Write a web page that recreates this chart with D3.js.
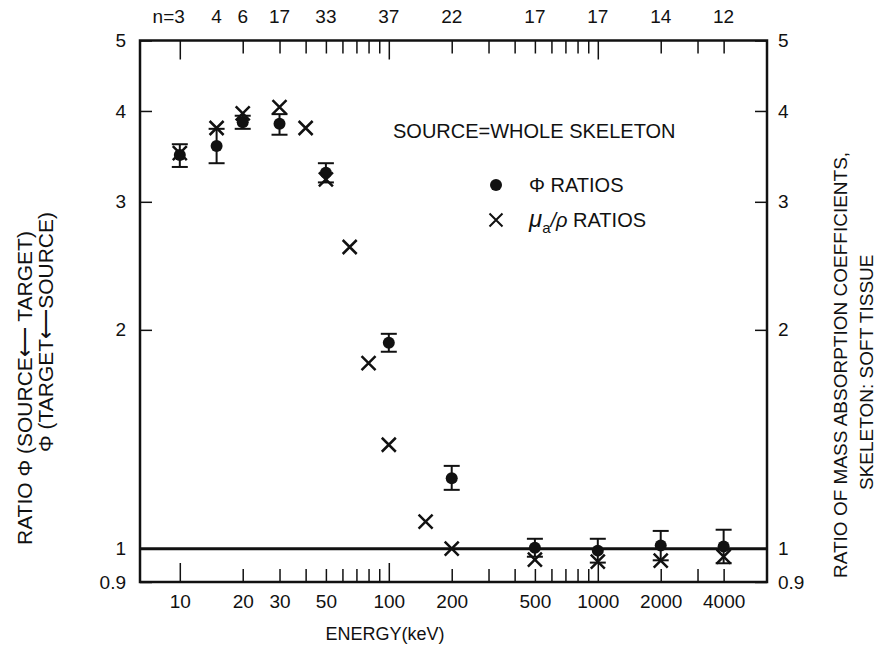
<!DOCTYPE html>
<html>
<head>
<meta charset="utf-8">
<script src="https://cdn.jsdelivr.net/npm/d3@7"></script>
<style>
body { margin: 0; background: #fff; }
text { font-family: "Liberation Sans", Arial, sans-serif; fill: #111; }
</style>
</head>
<body>
<svg id="chart" width="881" height="653"></svg>
<script>

// phi ratios (dots with error bars), energy in keV
var phiEnergy = [10, 15, 20, 30, 50, 100, 200, 500, 1000, 2000, 4000];
var phiRatio  = [3.48, 3.58, 3.86, 3.84, 3.29, 1.92, 1.25, 1.003, 0.994, 1.01, 1.007];
var phiHigh   = [3.60, 3.78, 3.94, 3.96, 3.39, 1.975, 1.30, 1.032, 1.032, 1.058, 1.062];
var phiLow    = [3.35, 3.39, 3.78, 3.71, 3.19, 1.866, 1.205, 0.975, 0.957, 0.964, 0.955];
var nCases    = [3, 4, 6, 17, 33, 37, 22, 17, 17, 14, 12];

// mass absorption coefficient ratios (crosses)
var muEnergy = [10, 15, 20, 30, 40, 50, 65, 80, 100, 150, 200, 500, 1000, 2000, 4000];
var muRatio  = [3.50, 3.79, 3.97, 4.05, 3.79, 3.22, 2.60, 1.80, 1.39, 1.09, 1.00, 0.966, 0.96, 0.963, 0.975];

var xTicks = [10, 20, 30, 40, 50, 60, 70, 80, 90, 100, 200, 300, 400, 500, 600, 700, 800, 900, 1000, 2000, 3000, 4000];
var xMajor = [10, 100, 1000];
var xLabels = [10, 20, 30, 50, 100, 200, 500, 1000, 2000, 4000];
var yTicks = [0.9, 1, 2, 3, 4, 5];

(function(){

var svg = d3.select("#chart");
var pl = 140, pr = 767, pt = 40.5, pb = 582;

var x = d3.scaleLog().domain([6.45, 6450]).range([pl, pr]);
var y = d3.scaleLog().domain([0.9, 5]).range([pb, pt]);

function tidy(g) {
  g.select(".domain").remove();
  g.selectAll(".tick line").attr("stroke", "#111").attr("stroke-width", 1.5);
  g.selectAll(".tick text").attr("font-size", 19).attr("font-family", null).attr("fill", "#111");
}

// bottom axis
var gb = svg.append("g")
  .attr("transform", "translate(0," + pb + ")")
  .call(d3.axisBottom(x).tickValues(xTicks).tickSizeInner(-13).tickSizeOuter(0).tickPadding(13)
    .tickFormat(function(d){ return xLabels.indexOf(d) >= 0 ? d : ""; }))
  .call(tidy);
gb.selectAll(".tick line").attr("y2", function(d){ return xMajor.indexOf(d) >= 0 ? -19 : -13; });

// top axis
var gt = svg.append("g")
  .attr("transform", "translate(0," + pt + ")")
  .call(d3.axisTop(x).tickValues(xTicks).tickSizeInner(-13).tickSizeOuter(0).tickFormat(""))
  .call(tidy);
gt.selectAll(".tick line").attr("y2", function(d){ return xMajor.indexOf(d) >= 0 ? 19 : 13; });

// left / right axes
svg.append("g")
  .attr("transform", "translate(" + pl + ",0)")
  .call(d3.axisLeft(y).tickValues(yTicks).tickSizeInner(-12).tickSizeOuter(0).tickPadding(14)
    .tickFormat(function(d){ return String(d); }))
  .call(tidy);

svg.append("g")
  .attr("transform", "translate(" + pr + ",0)")
  .call(d3.axisRight(y).tickValues(yTicks).tickSizeInner(-12).tickSizeOuter(0).tickPadding(11)
    .tickFormat(function(d){ return String(d); }))
  .call(tidy);

// frame
svg.append("rect")
  .attr("x", pl).attr("y", pt)
  .attr("width", pr - pl).attr("height", pb - pt)
  .attr("fill", "none").attr("stroke", "#111").attr("stroke-width", 2.5);

// reference line at ratio 1
svg.append("line")
  .attr("x1", pl).attr("x2", pr)
  .attr("y1", y(1)).attr("y2", y(1))
  .attr("stroke", "#111").attr("stroke-width", 3);

// n labels on top
svg.append("g").selectAll("text")
  .data(phiEnergy)
  .enter().append("text")
  .attr("x", function(d){ return x(d); })
  .attr("y", 23)
  .attr("font-size", 19)
  .attr("text-anchor", function(d, i){ return i === 0 ? "end" : "middle"; })
  .attr("dx", function(d, i){ return i === 0 ? 5 : 0; })
  .text(function(d, i){ return i === 0 ? "n=" + nCases[i] : nCases[i]; });

// error bars
var eb = svg.append("g").selectAll("g")
  .data(phiEnergy)
  .enter().append("g")
  .attr("stroke", "#111").attr("stroke-width", 2);
eb.append("line")
  .attr("x1", function(d){ return x(d); }).attr("x2", function(d){ return x(d); })
  .attr("y1", function(d, i){ return y(phiHigh[i]); })
  .attr("y2", function(d, i){ return y(phiLow[i]); });
eb.append("line")
  .attr("x1", function(d){ return x(d) - 8; }).attr("x2", function(d){ return x(d) + 8; })
  .attr("y1", function(d, i){ return y(phiHigh[i]); })
  .attr("y2", function(d, i){ return y(phiHigh[i]); });
eb.append("line")
  .attr("x1", function(d){ return x(d) - 8; }).attr("x2", function(d){ return x(d) + 8; })
  .attr("y1", function(d, i){ return y(phiLow[i]); })
  .attr("y2", function(d, i){ return y(phiLow[i]); });

// dots
svg.append("g").selectAll("circle")
  .data(phiEnergy)
  .enter().append("circle")
  .attr("cx", function(d){ return x(d); })
  .attr("cy", function(d, i){ return y(phiRatio[i]); })
  .attr("r", 6)
  .attr("fill", "#111");

// crosses
function cross(s) {
  return "M" + (-s) + "," + (-s) + "L" + s + "," + s + "M" + (-s) + "," + s + "L" + s + "," + (-s);
}
svg.append("g").selectAll("path")
  .data(muEnergy)
  .enter().append("path")
  .attr("transform", function(d, i){ return "translate(" + x(d) + "," + y(muRatio[i]) + ")"; })
  .attr("d", cross(7))
  .attr("stroke", "#111").attr("stroke-width", 2.5).attr("fill", "none");

// annotation + legend
svg.append("text").attr("x", 393).attr("y", 138).attr("font-size", 20)
  .text("SOURCE=WHOLE SKELETON");

svg.append("circle").attr("cx", 496).attr("cy", 185).attr("r", 6).attr("fill", "#111");
svg.append("text").attr("x", 529).attr("y", 192).attr("font-size", 20).text("\u03A6 RATIOS");

svg.append("path").attr("transform", "translate(496,220)").attr("d", cross(6.5))
  .attr("stroke", "#111").attr("stroke-width", 2).attr("fill", "none");
var mu = svg.append("text").attr("x", 529).attr("y", 227).attr("font-size", 20);
mu.append("tspan").attr("font-style", "italic").attr("font-size", 24).text("\u03BC");
mu.append("tspan").attr("font-size", 15).attr("dy", 6).text("a");
mu.append("tspan").attr("dy", -6).attr("font-style", "italic").text("/\u03C1");
mu.append("tspan").text(" RATIOS");

// axis titles
svg.append("text").attr("x", 385).attr("y", 640).attr("font-size", 18)
  .attr("text-anchor", "middle").text("ENERGY(keV)");

svg.append("text").attr("transform", "translate(32,545) rotate(-90)").attr("font-size", 21)
  .text("RATIO \u03A6 (SOURCE\u27F5 TARGET)");
svg.append("text").attr("transform", "translate(53,452) rotate(-90)").attr("font-size", 21)
  .text("\u03A6 (TARGET\u27F5SOURCE)");

svg.append("text").attr("transform", "translate(847,578) rotate(-90)").attr("font-size", 19)
  .text("RATIO OF MASS ABSORPTION COEFFICIENTS,");
svg.append("text").attr("transform", "translate(873,490) rotate(-90)").attr("font-size", 19)
  .text("SKELETON: SOFT TISSUE");

})();
</script>
</body>
</html>
